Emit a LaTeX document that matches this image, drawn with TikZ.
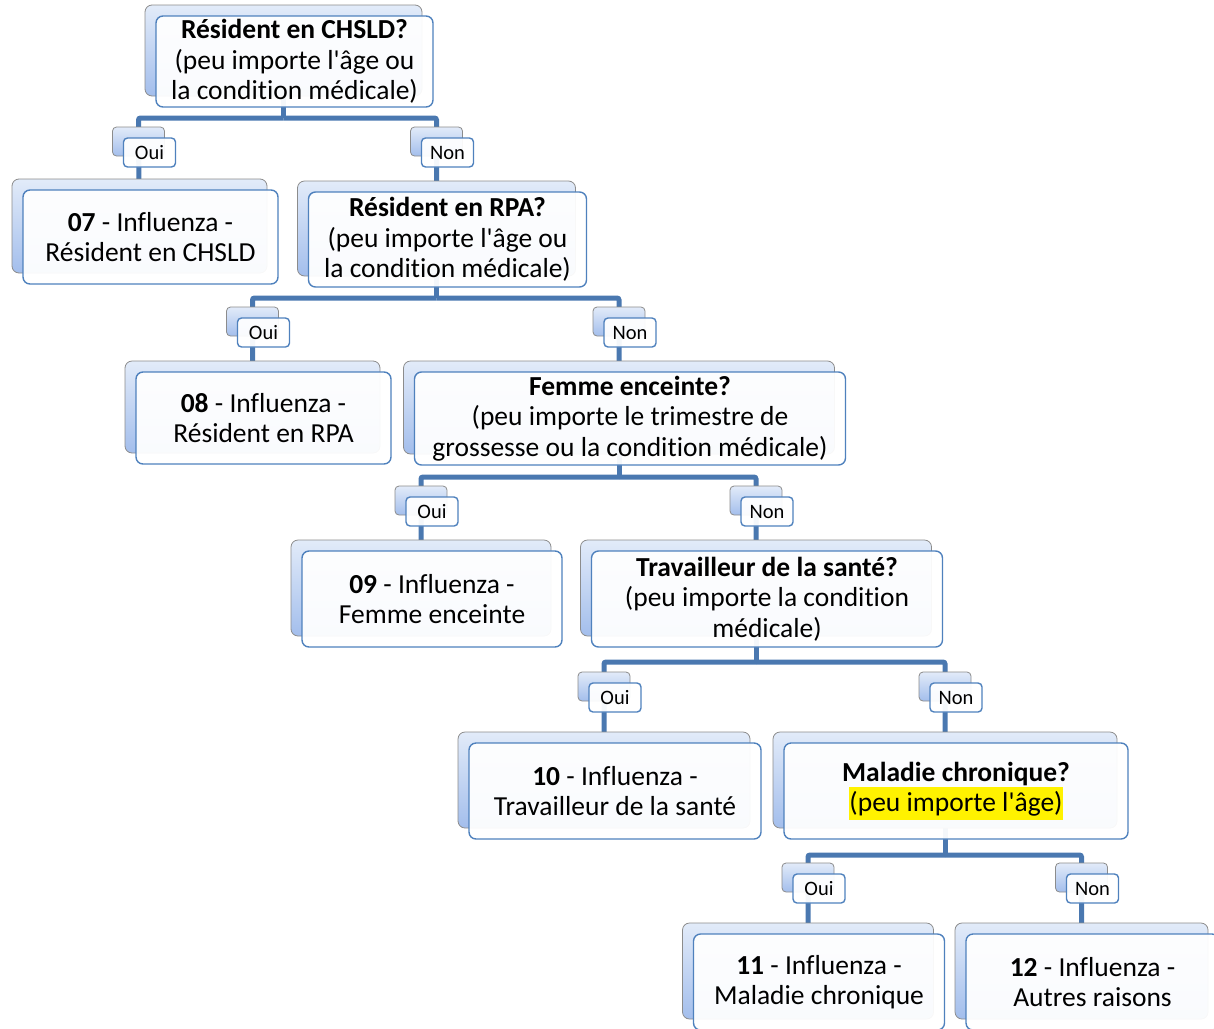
\documentclass[tikz,border=0pt]{standalone}
\usepackage{fontspec}
\setmainfont{Carlito}[Ligatures={TeX,NoCommon}]
\usetikzlibrary{calc}
\definecolor{conn}{HTML}{4A78B0}
\definecolor{fborder}{HTML}{4F81BD}
\definecolor{btop}{HTML}{E2EBF9}
\definecolor{bbot}{HTML}{A3BEEC}
\definecolor{bborder}{HTML}{8C8C8C}
\pgfdeclarelayer{bg}
\pgfsetlayers{bg,main}
\newcommand\aps{\textquotesingle}
\newcommand\hlt[1]{{\setlength{\fboxsep}{0pt}\colorbox{yellow}{\rule[-8pt]{0pt}{33pt}#1}}}
\tikzset{
 backbox/.style={draw=bborder, line width=0.8pt, rounded corners=7pt, top color=btop, bottom color=bbot, inner sep=0pt},
 frontbox/.style={draw=fborder, line width=1.4pt, rounded corners=7pt, fill=white, fill opacity=0.94, text opacity=1, inner sep=0pt, align=center, font=\fontsize{27.5}{30.5}\selectfont},
 backlbl/.style={backbox, rounded corners=4pt, minimum width=52pt, minimum height=29pt},
 frontlbl/.style={frontbox, rounded corners=4pt, minimum width=52pt, minimum height=29pt, font=\fontsize{20.5}{22}\selectfont},
 connline/.style={draw=conn, line width=5pt, rounded corners=2pt},
}
% name, cx, cy, w, h, text
\newcommand\mybox[6]{%
 \node[backbox, minimum width=#4pt, minimum height=#5pt] (#1s) at (#2,#3) {};
 \node[frontbox, minimum width=#4pt, minimum height=#5pt] (#1) at ($(#1s)+(11,11)$) {#6};
}
% name, cx, cy, text
\newcommand\mylbl[4]{%
 \node[backlbl] (#1s) at (#2,#3) {};
 \node[frontlbl] (#1) at ($(#1s)+(11,11)$) {#4};
}
\begin{document}
\begin{tikzpicture}[x=1pt,y=-1pt]
\useasboundingbox (0,0) rectangle (1214,1028);

\mybox{q1}{283.5}{50.5}{277}{91}{\textbf{Résident en CHSLD?}\\(peu importe l\aps âge ou\\la condition médicale)}
\mylbl{oui1}{138.5}{141.5}{Oui}
\mylbl{non1}{436.5}{141.5}{Non}
\mybox{r07}{139.5}{226}{255}{94}{\textbf{07} - Influenza -\\Résident en CHSLD}
\mybox{q2}{436.5}{228.5}{278}{95}{\textbf{Résident en RPA?}\\(peu importe l\aps âge ou\\la condition médicale)}
\mylbl{oui2}{252.5}{321.5}{Oui}
\mylbl{non2}{619}{321.5}{Non}
\mybox{r08}{252.5}{407}{255}{92}{\textbf{08} - Influenza -\\Résident en RPA}
\mybox{q3}{619}{407.5}{431}{93}{\textbf{Femme enceinte?}\\(peu importe le trimestre de\\grossesse ou la condition médicale)}
\mylbl{oui3}{421}{500.5}{Oui}
\mylbl{non3}{756}{500.5}{Non}
\mybox{r09}{421}{588}{260}{96}{\textbf{09} - Influenza -\\Femme enceinte}
\mybox{q4}{756}{588}{351}{96}{\textbf{Travailleur de la santé?}\\(peu importe la condition\\médicale)}
\mylbl{oui4}{604}{686.5}{Oui}
\mylbl{non4}{945}{686.5}{Non}
\mybox{r10}{604}{780}{292}{96}{\textbf{10} - Influenza -\\Travailleur de la santé}
\mybox{q5}{945}{780}{344}{96}{\textbf{Maladie chronique?}\\\hlt{(peu importe l\aps âge)}}
\mylbl{oui5}{808}{877.5}{Oui}
\mylbl{non5}{1081.5}{877.5}{Non}
\mybox{r11}{808}{971}{251}{96}{\textbf{11} - Influenza -\\Maladie chronique}
\mybox{r12}{1081.5}{971}{253}{96}{\textbf{12} - Influenza -\\Autres raisons}

\coordinate (j1) at (283.5,118);
\coordinate (j2) at (436.5,298);
\coordinate (j3) at (619,477);
\coordinate (j4) at (756,662);
\coordinate (j5) at (945,855);

\begin{pgfonlayer}{bg}
\draw[connline] (q1s.center) -- (j1);
\draw[connline] (j1) -| (oui1s.center) -- (r07s.center);
\draw[connline] (j1) -| (non1s.center) -- (q2s.center);
\draw[connline] (q2s.center) -- (j2);
\draw[connline] (j2) -| (oui2s.center) -- (r08s.center);
\draw[connline] (j2) -| (non2s.center) -- (q3s.center);
\draw[connline] (q3s.center) -- (j3);
\draw[connline] (j3) -| (oui3s.center) -- (r09s.center);
\draw[connline] (j3) -| (non3s.center) -- (q4s.center);
\draw[connline] (q4s.center) -- (j4);
\draw[connline] (j4) -| (oui4s.center) -- (r10s.center);
\draw[connline] (j4) -| (non4s.center) -- (q5s.center);
\draw[connline] (q5s.center) -- (j5);
\draw[connline] (j5) -| (oui5s.center) -- (r11s.center);
\draw[connline] (j5) -| (non5s.center) -- (r12s.center);
\end{pgfonlayer}
\end{tikzpicture}
\end{document}
